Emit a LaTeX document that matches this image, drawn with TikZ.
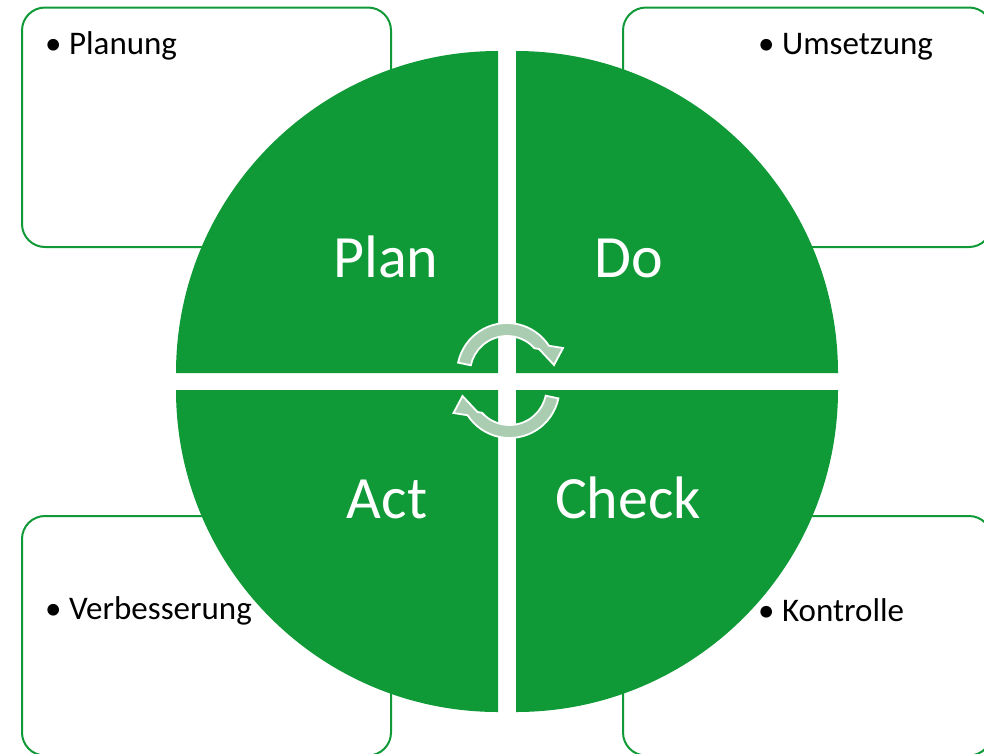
\documentclass[tikz,border=0pt]{standalone}
\usepackage{fontspec}
\setmainfont{Carlito}
\definecolor{pdcagreen}{RGB}{16,154,55}
\definecolor{cyclefill}{RGB}{170,205,177}
\tikzset{
  infobox/.style={draw=pdcagreen, line width=2pt, fill=white, rounded corners=23pt,
    minimum width=369pt, minimum height=239.5pt, inner sep=0pt},
  item/.style={inner sep=0pt, anchor=base west, font=\fontsize{33}{36}\selectfont},
  phase/.style={inner sep=0pt, anchor=base, text=white, font=\fontsize{60}{66}\selectfont},
  cyclearrow/.pic={
    \filldraw[fill=cyclefill, draw=white, line width=1.8pt, line join=miter]
      (-168:50) arc[start angle=-168, end angle=-33, radius=50]
      -- (56,-25) -- (47,-8) -- (32,-24)
      -- (-42:37) arc[start angle=-42, end angle=-168, radius=37] -- cycle;
  }
}
\begin{document}
\begin{tikzpicture}[x=1pt, y=-1pt]
    \useasboundingbox (0,0) rectangle (984,753);
    \clip (0,0) rectangle (984,753);
    \node[infobox] (planbox) at (206.5,127.25) {};
    \node[infobox] (dobox) at (807.5,127.25) {};
    \node[infobox] (actbox) at (206.5,635.75) {};
    \node[infobox] (checkbox) at (807.5,635.75) {};
    \foreach \cx/\cy/\a/\b in {498/373/180/270, 516/373/270/360, 498/390/90/180, 516/390/0/90}
        \fill[pdcagreen] (\cx,\cy) -- ++(\a:322) arc[start angle=\a, end angle=\b, radius=322] -- cycle;
    \pic at (507,373) {cyclearrow};
    \pic[rotate=180] at (509.5,388) {cyclearrow};
    \node[phase] (plan) at (386,277) {Plan};
    \node[phase] (do) at (629,277) {Do};
    \node[phase] (act) at (387,518) {Act};
    \node[phase] (check) at (628,518) {Check};
    \node[item] (planung) at (45,54) {\textbullet{} Planung};
    \node[item] (umsetzung) at (758,54) {\textbullet{} Umsetzung};
    \node[item] (verbesserung) at (45,619) {\textbullet{} Verbesserung};
    \node[item] (kontrolle) at (758,621) {\textbullet{} Kontrolle};
\end{tikzpicture}
\end{document}
